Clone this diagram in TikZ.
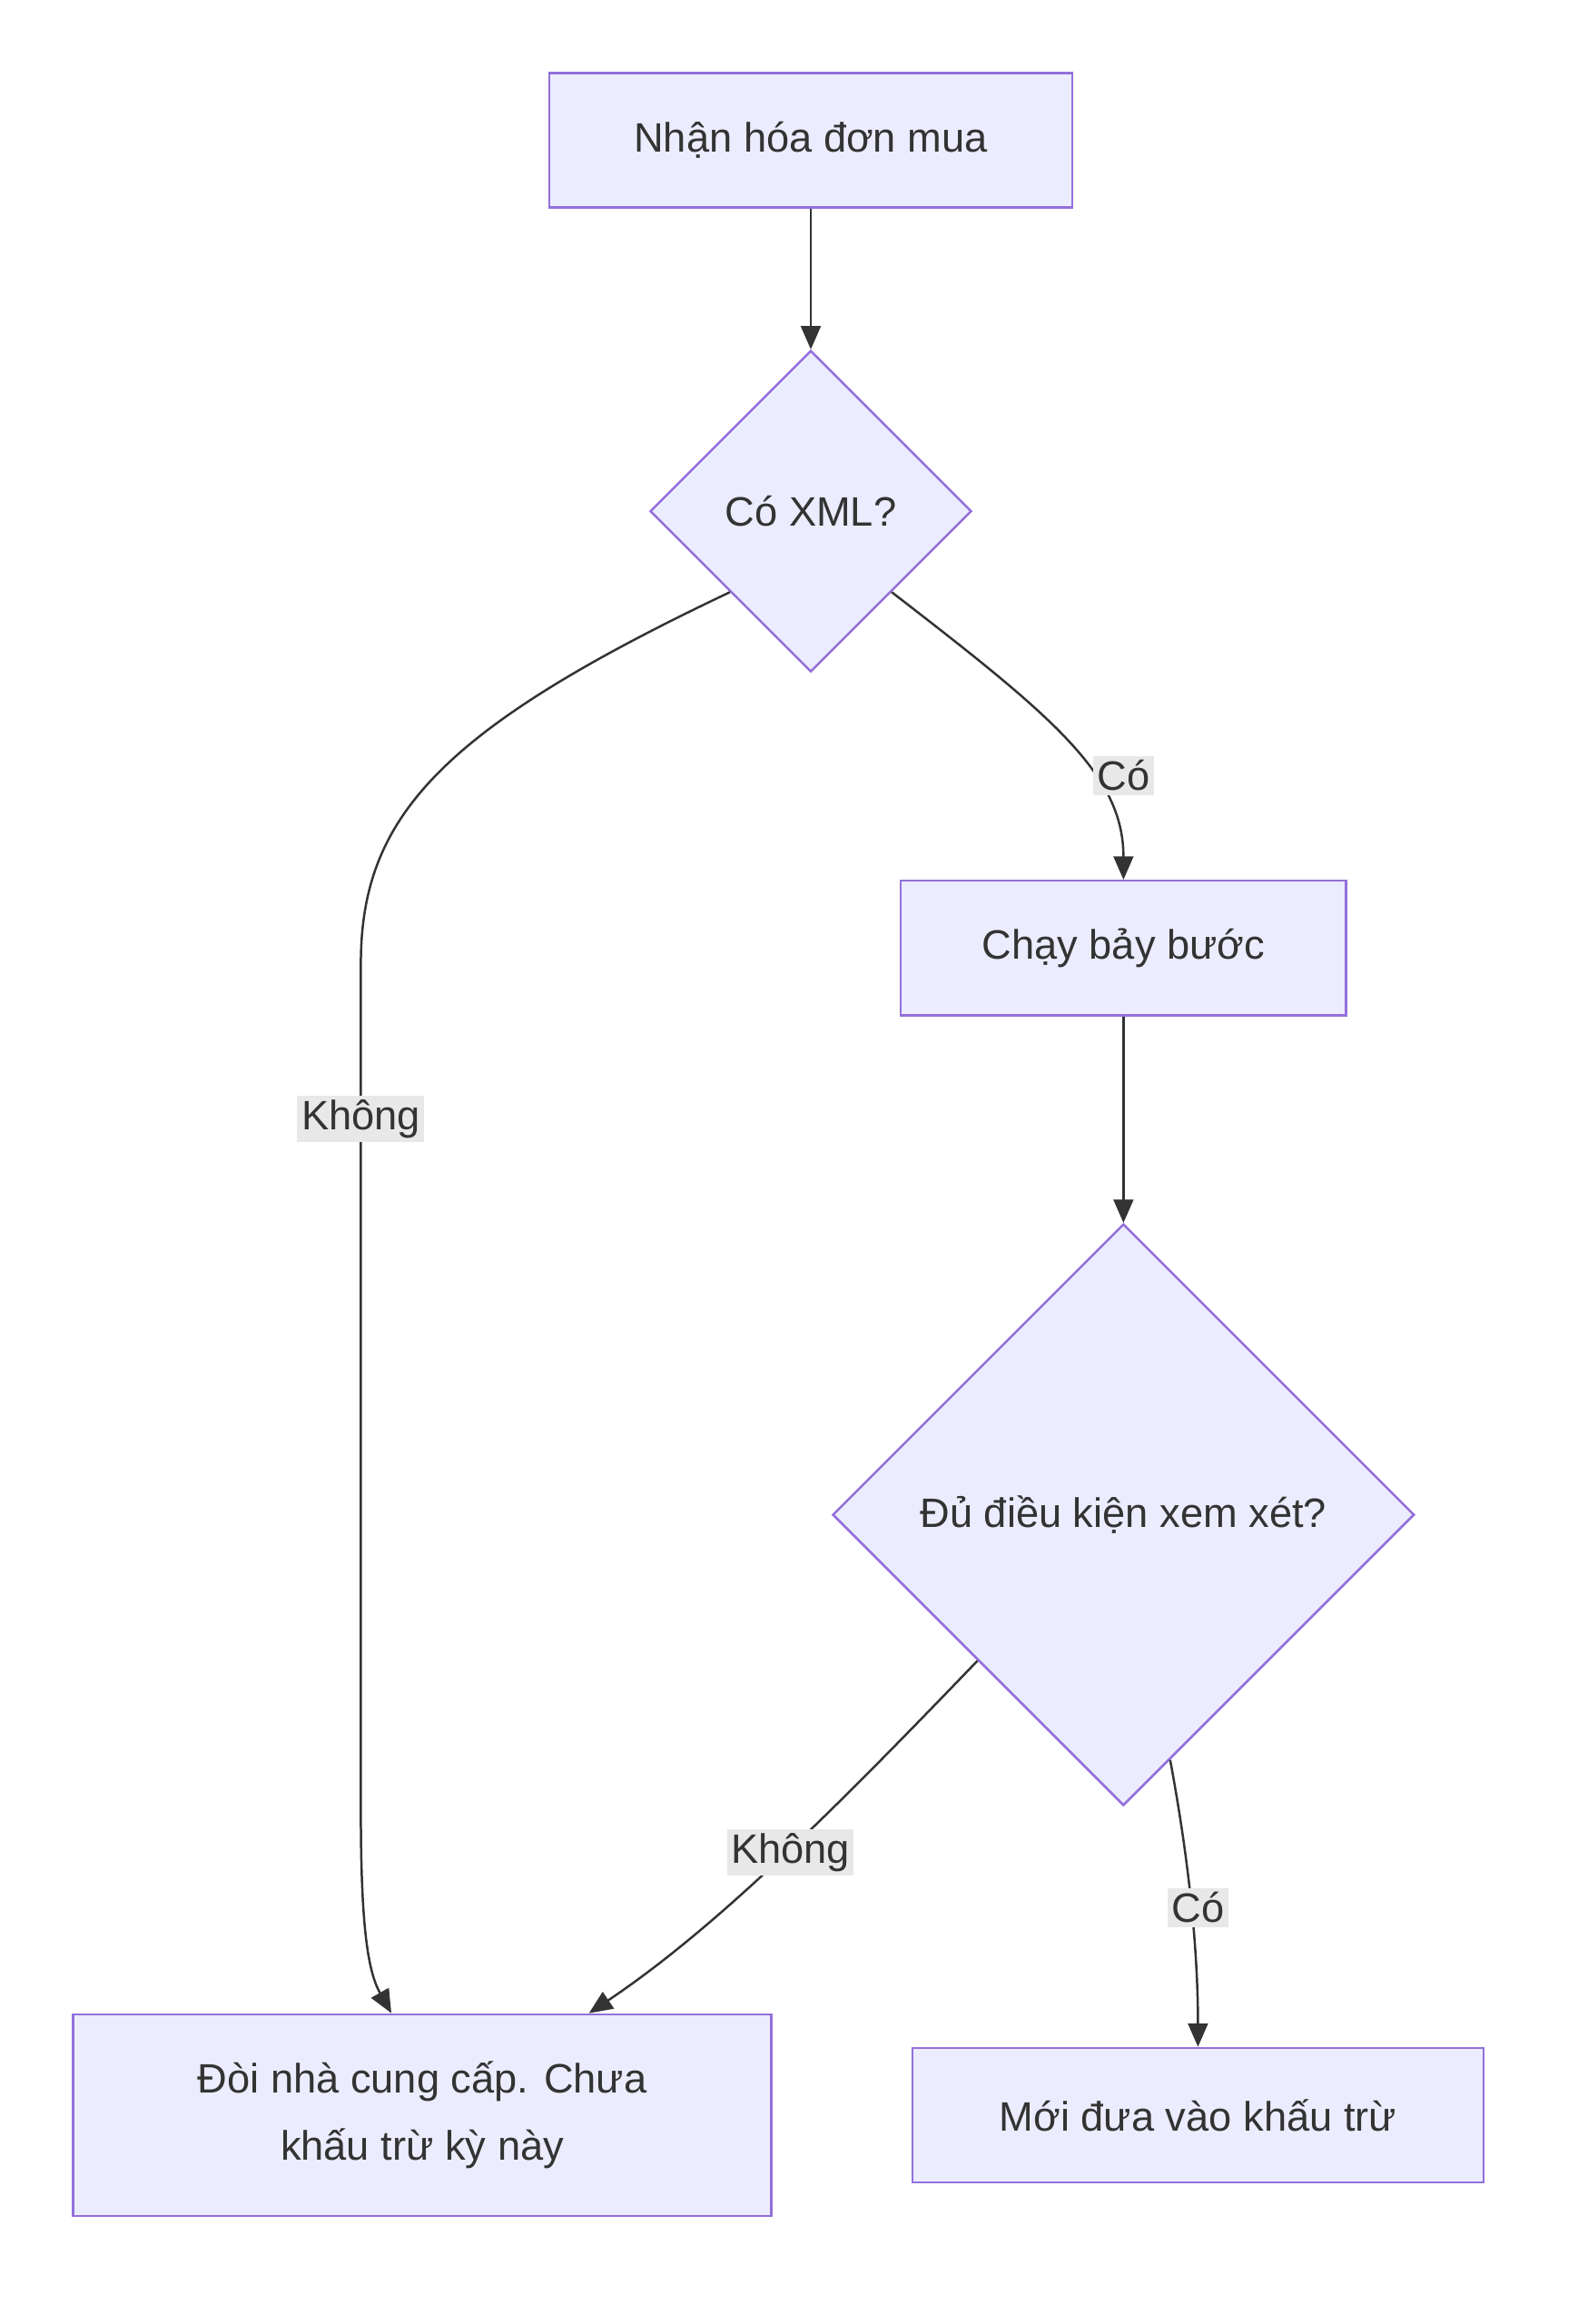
\documentclass[tikz,border=0pt]{standalone}
\usepackage{fontspec}
\setmainfont{Liberation Sans}
\usetikzlibrary{shapes.geometric, arrows.meta, calc, positioning}
\definecolor{boxfill}{HTML}{ECECFF}
\definecolor{boxline}{HTML}{9370DB}
\definecolor{ink}{HTML}{333333}
\definecolor{lblbg}{HTML}{E8E8E8}
\tikzset{
  task/.style = {rectangle, draw=boxline, fill=boxfill, line width=1.1pt, text=ink, align=center, inner sep=0pt},
  check/.style = {diamond, aspect=1, draw=boxline, fill=boxfill, line width=1.1pt, text=ink, inner sep=0pt},
  arrow/.style = {draw=ink, line width=1.1pt, -{Triangle[length=0.4cm, width=0.34cm]}},
  lbl/.style = {fill=lblbg, text=ink, inner sep=2pt}
}
\begin{document}
\begin{tikzpicture}[x=0.025cm, y=-0.025cm, font=\fontsize{20}{33}\selectfont]
	\useasboundingbox (0,0) rectangle (1080,1591);
	\node (Receive) [task, minimum width=8.95cm, minimum height=2.3cm] at (555,96) {Nhận hóa đơn mua};
	\node (HasXml) [check, minimum width=5.5cm, minimum height=5.5cm] at (555,350) {Có XML?};
	\node (Run) [task, minimum width=7.62cm, minimum height=2.3cm] at (769,649) {Chạy bảy bước};
	\node (Eligible) [check, minimum width=9.95cm, minimum height=9.95cm] at (769,1037) {Đủ điều kiện xem xét?};
	\node (Request) [task, minimum width=11.95cm, minimum height=3.45cm] at (289,1448) {Đòi nhà cung cấp. Chưa\\khấu trừ kỳ này};
	\node (Deduct) [task, minimum width=9.77cm, minimum height=2.3cm] at (820,1448) {Mới đưa vào khấu trừ};
	% connectors
	\draw [arrow] (Receive) -- (HasXml);
	\draw [arrow] (HasXml.south east) .. controls (720,490) and (769,530) .. (Run.north);
	\draw [arrow] (HasXml.south west) .. controls (300,500) and (247,560) .. (247,660) -- (247,1240) .. controls (247,1320) and (252,1350) .. ($(Request.north west)!0.456!(Request.north east)$);
	\draw [arrow] (Run) -- (Eligible);
	\draw [arrow] (Eligible.south west) .. controls (570,1240) and (490,1320) .. ($(Request.north west)!0.738!(Request.north east)$);
	\draw [arrow] ($(Eligible.south east)!0.68!(Eligible.south)$) .. controls (815,1280) and (820,1340) .. (Deduct.north);
	% labels
	\node (YesXml) [lbl] at (769,531) {Có};
	\node (NoXml) [lbl] at (247,766) {Không};
	\node (NoEligible) [lbl] at (541,1268) {Không};
	\node (YesEligible) [lbl] at (820,1306) {Có};
\end{tikzpicture}
\end{document}
